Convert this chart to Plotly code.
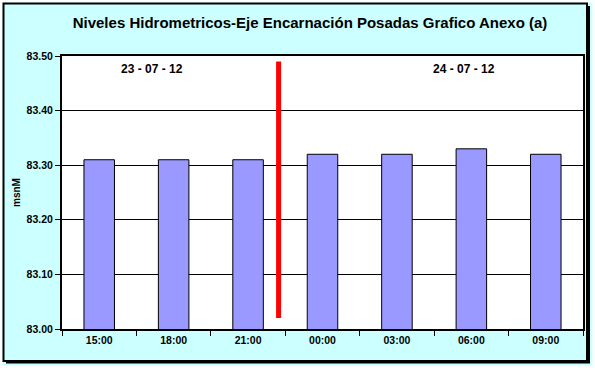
import plotly.graph_objects as go

categories = ["15:00", "18:00", "21:00", "00:00", "03:00", "06:00", "09:00"]
levels = [83.31, 83.31, 83.31, 83.32, 83.32, 83.33, 83.32]
date_labels = ["23 - 07 - 12", "24 - 07 - 12"]
date_label_x = [0.71, 4.9]
date_label_y = 83.476
divider_x = 2.41
divider_y = [83.02, 83.49]
y_ticks = [83.0, 83.1, 83.2, 83.3, 83.4, 83.5]

W, H = 595, 368
ml, mr, mt, mb = 62, 12, 56, 39
pw, ph = W - ml - mr, H - mt - mb

def px_x(p):
    return (p - ml) / pw

def px_y(p):
    return (H - mb - p) / ph

FONT = "Liberation Sans, Arial, sans-serif"

fig = go.Figure()
fig.add_trace(go.Bar(
    x=categories, y=levels, width=0.41,
    marker=dict(color="#9999FF", line=dict(color="black", width=1)),
    showlegend=False, hoverinfo="x+y",
))

shapes = [
    # divider line
    dict(type="line", xref="x", yref="y", x0=divider_x, x1=divider_x,
         y0=divider_y[0], y1=divider_y[1], line=dict(color="#FF0000", width=5)),
    # white outer frame
    dict(type="rect", xref="paper", yref="paper", x0=px_x(0), x1=px_x(W), y0=px_y(H), y1=px_y(0),
         line=dict(color="white", width=5), layer="above"),
    # chart border
    dict(type="rect", xref="paper", yref="paper", x0=px_x(3.5), x1=px_x(587), y0=px_y(361), y1=px_y(3.5),
         line=dict(color="black", width=2), layer="above"),
    # shadow right
    dict(type="line", xref="paper", yref="paper", x0=px_x(589), x1=px_x(589), y0=px_y(362.5), y1=px_y(6),
         line=dict(color="black", width=2), layer="above"),
    # shadow bottom
    dict(type="line", xref="paper", yref="paper", x0=px_x(6), x1=px_x(590), y0=px_y(362.5), y1=px_y(362.5),
         line=dict(color="black", width=2), layer="above"),
]

annotations = [
    dict(x=date_label_x[i], y=date_label_y, xref="x", yref="y", text=t, showarrow=False,
         font=dict(family=FONT, size=12, color="black", weight="bold"))
    for i, t in enumerate(date_labels)
]

fig.update_layout(
    width=W, height=H,
    margin=dict(l=ml, r=mr, t=mt, b=mb),
    paper_bgcolor="#CCFFFF", plot_bgcolor="white",
    title=dict(text="Niveles Hidrometricos-Eje Encarnación Posadas Grafico Anexo (a)",
               x=310 / W, xanchor="center", y=1 - 23 / H, yanchor="middle",
               font=dict(family=FONT, size=15, color="black", weight="bold")),
    xaxis=dict(type="category", range=[-0.5, 6.5], tickson="boundaries", ticks="outside",
               ticklen=5, tickcolor="black", showgrid=False, showline=True, linecolor="black",
               linewidth=2, mirror=True,
               tickfont=dict(family=FONT, size=10.5, color="black", weight="bold")),
    yaxis=dict(range=[83.0, 83.5], tickvals=y_ticks, tickformat=".2f", ticks="outside",
               ticklen=5, tickcolor="black", showgrid=True, gridcolor="black", gridwidth=1,
               showline=True, linecolor="black", linewidth=2, mirror=True, zeroline=False,
               automargin=False,
               tickfont=dict(family=FONT, size=10.5, color="black", weight="bold"),
               title=dict(text="msnM", standoff=4,
                          font=dict(family=FONT, size=10, color="black", weight="bold"))),
    shapes=shapes, annotations=annotations, bargap=0.59,
)

fig.write_html("out.html", config={"displayModeBar": False},
               post_script="document.body.style.margin='0';document.body.style.padding='0';")
